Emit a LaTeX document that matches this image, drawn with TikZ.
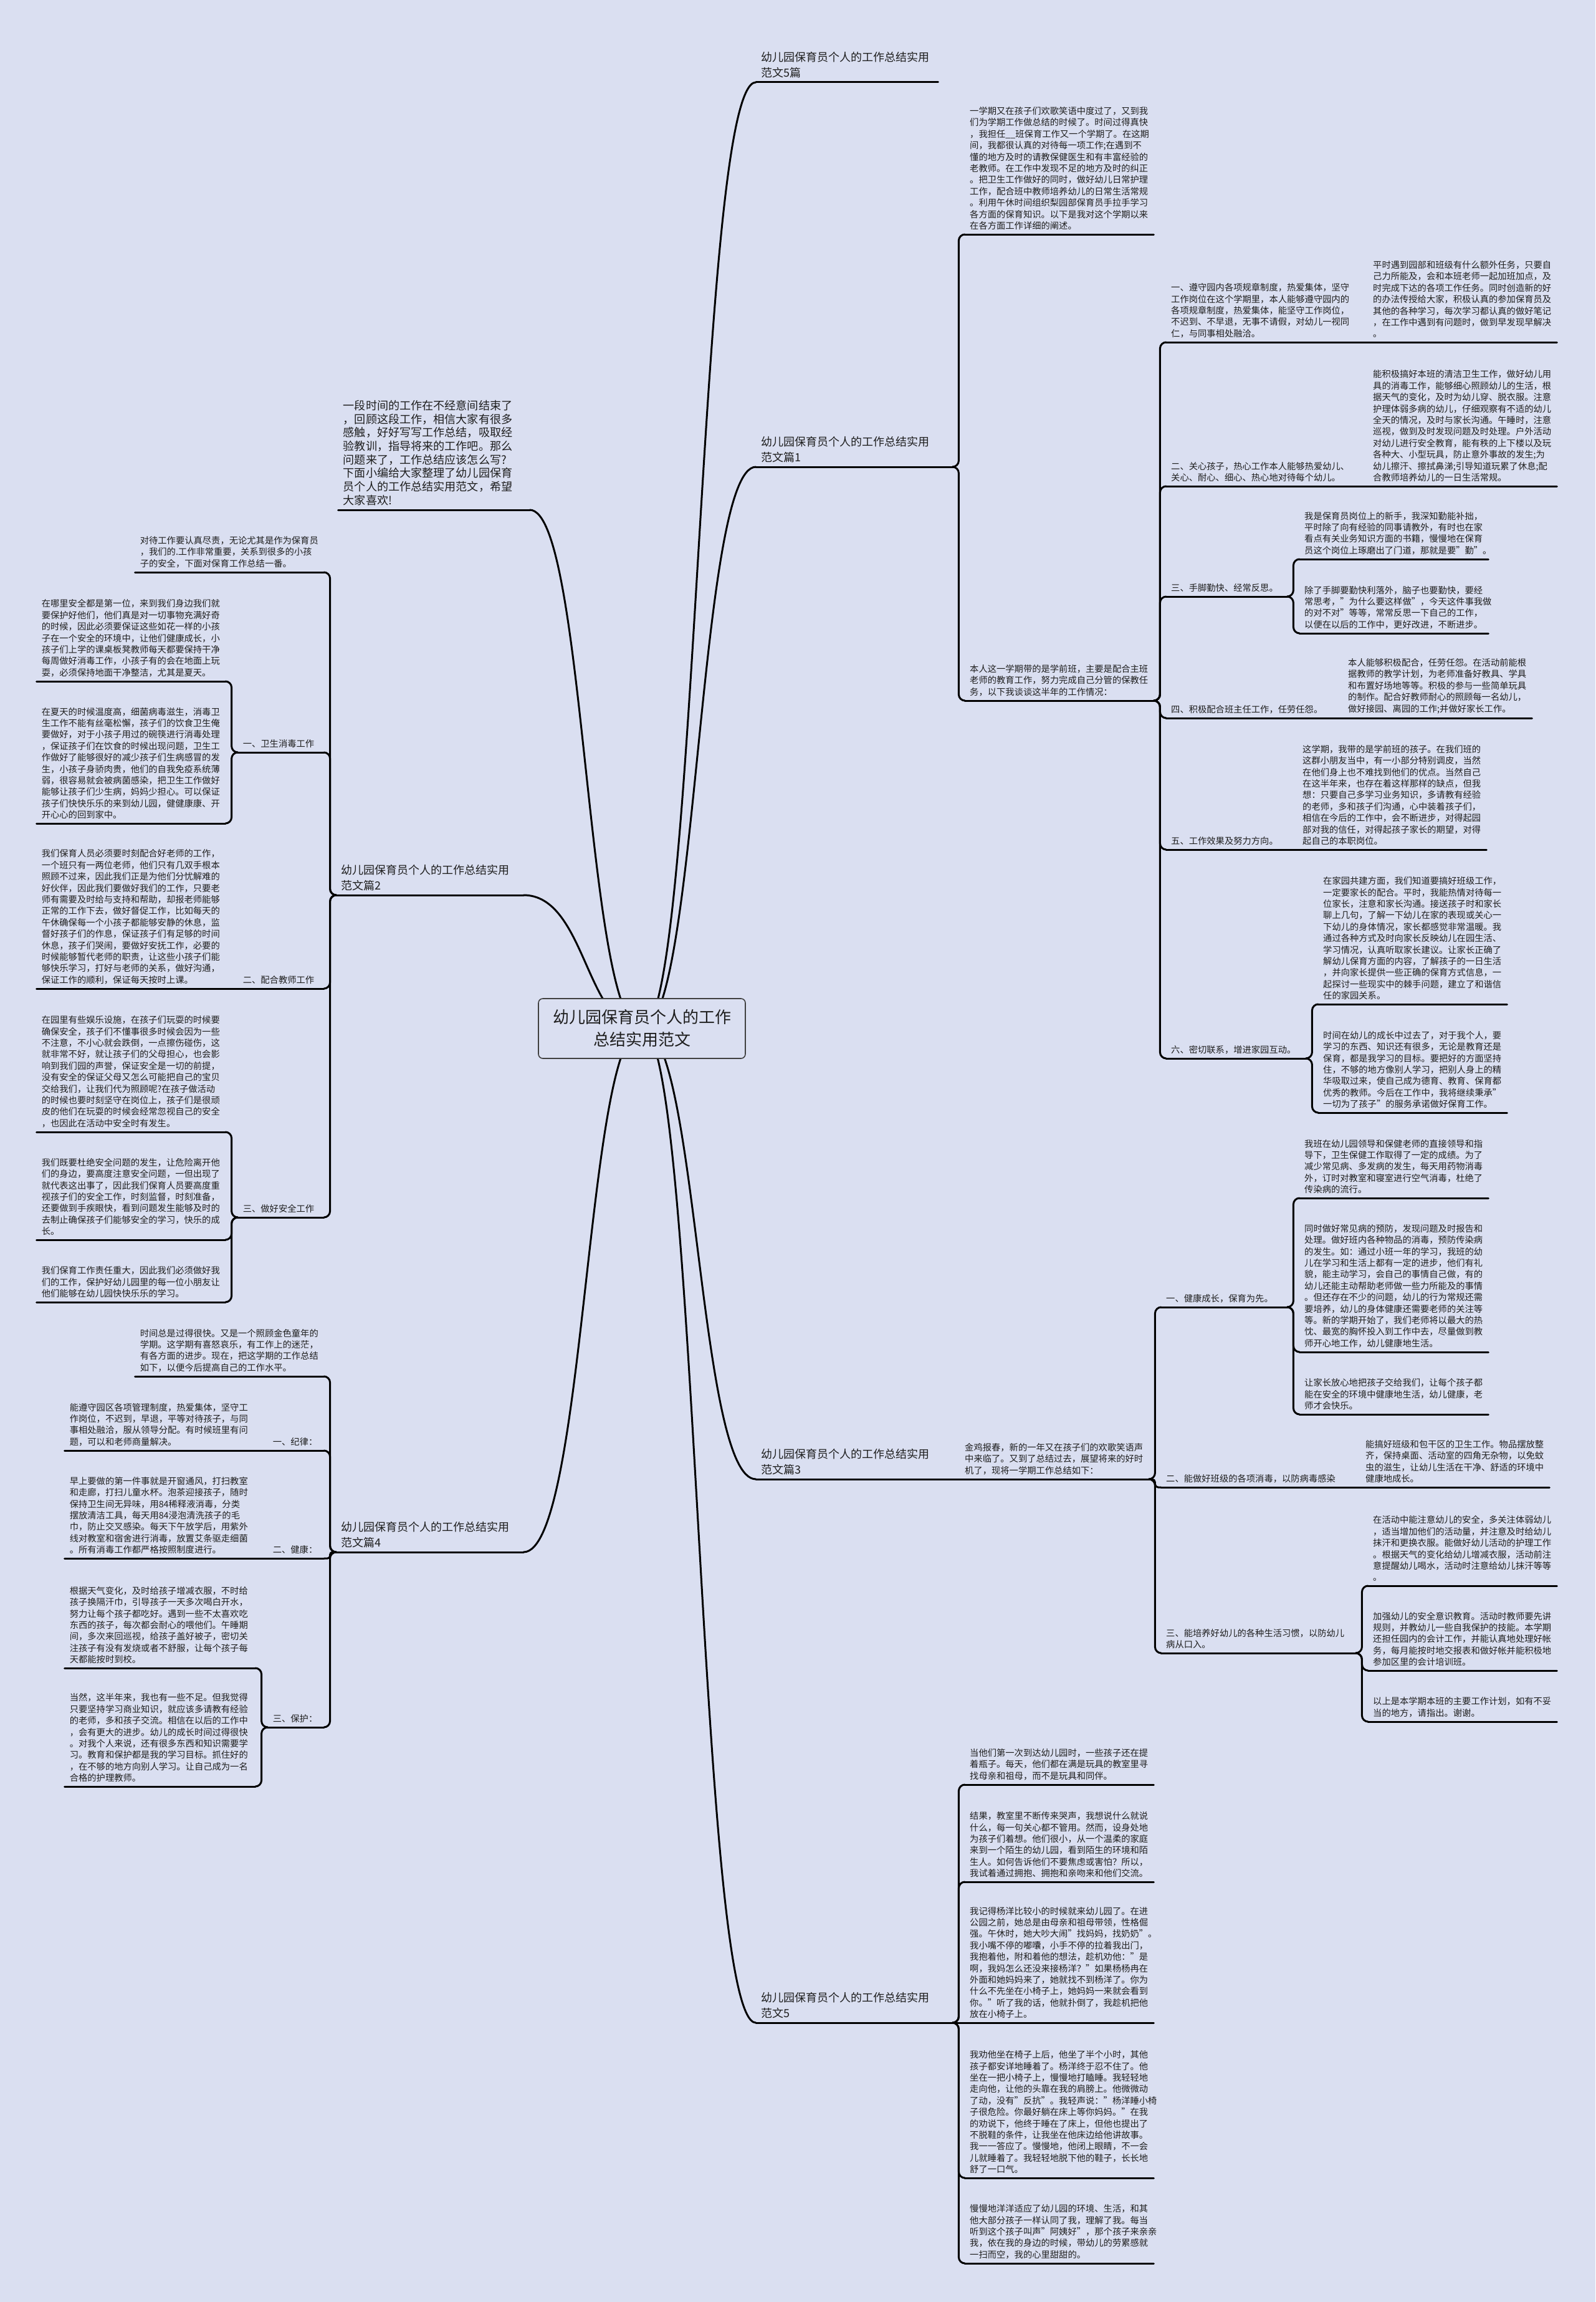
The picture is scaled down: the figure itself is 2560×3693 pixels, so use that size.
\documentclass[tikz,border=0pt]{standalone}
\usepackage{fontspec}
\setmainfont{Noto Sans CJK SC}
\usetikzlibrary{backgrounds}
\definecolor{bgc}{RGB}{218,223,241}
\definecolor{txc}{RGB}{30,30,30}
\tikzset{
  blk/.style={anchor=south west, inner xsep=8pt, inner ysep=7pt, align=left, text=txc, font=\fontsize{14.3}{18.4}\selectfont},
  blkL/.style={blk, anchor=south east},
  lbl/.style={blk, font=\fontsize{18}{25}\selectfont},
  lblL/.style={lbl, anchor=south east},
  intro/.style={blkL, font=\fontsize{18.1}{21.7}\selectfont},
  ln/.style={line width=3pt, line cap=round, black},
  brc/.style={ln, rounded corners=10pt},
  brcs/.style={ln, rounded corners=5pt},
  hub/.style={draw=black!75, line width=1.6pt, fill=bgc, rounded corners=7pt, minimum width=332pt, minimum height=96pt, align=center, text=txc, font=\fontsize{26}{36}\selectfont}
}
\begin{document}
\begin{tikzpicture}[x=1pt, y=-1pt]
\useasboundingbox (0,0) rectangle (2560,3693);

% centre
\node[hub] (c) at (1030,1650) {幼儿园保育员个人的工作\\总结实用范文};

% ---------- right side ----------
\node[lbl, text width=276pt] (s0) at (1213,132) {幼儿园保育员个人的工作总结实用\\范文5篇};
\node[lbl, text width=299pt] (s1) at (1213,749) {幼儿园保育员个人的工作总结实用\\范文篇1};
\node[blk, text width=287pt] (s1a) at (1548,376) {一学期又在孩子们欢歌笑语中度过了，又到我\\们为学期工作做总结的时候了。时间过得真快\\，我担任\_\_班保育工作又一个学期了。在这期\\间，我都很认真的对待每一项工作;在遇到不\\懂的地方及时的请教保健医生和有丰富经验的\\老教师。在工作中发现不足的地方及时的纠正\\。把卫生工作做好的同时，做好幼儿日常护理\\工作，配合班中教师培养幼儿的日常生活常规\\。利用午休时间组织梨园部保育员手拉手学习\\各方面的保育知识。以下是我对这个学期以来\\在各方面工作详细的阐述。};
\node[blk, text width=287pt] (s1b) at (1548,1124) {本人这一学期带的是学前班，主要是配合主班\\老师的教育工作，努力完成自己分管的保教任\\务，以下我谈谈这半年的工作情况：};
\node[blk, text width=308pt] (i1) at (1871,549) {一、遵守园内各项规章制度，热爱集体，坚守\\工作岗位在这个学期里，本人能够遵守园内的\\各项规章制度，热爱集体，能坚守工作岗位，\\不迟到、不早退，无事不请假，对幼儿一视同\\仁，与同事相处融洽。};
\node[blk, text width=287pt] (d1) at (2195,549) {平时遇到园部和班级有什么额外任务，只要自\\己力所能及，会和本班老师一起加班加点，及\\时完成下达的各项工作任务。同时创造新的好\\的办法传授给大家，积极认真的参加保育员及\\其他的各种学习，每次学习都认真的做好笔记\\，在工作中遇到有问题时，做到早发现早解决\\。};
\node[blk, text width=308pt] (i2) at (1871,780) {二、关心孩子，热心工作本人能够热爱幼儿、\\关心、耐心、细心、热心地对待每个幼儿。};
\node[blk, text width=287pt] (d2) at (2195,780) {能积极搞好本班的清洁卫生工作，做好幼儿用\\具的消毒工作，能够细心照顾幼儿的生活，根\\据天气的变化，及时为幼儿穿、脱衣服。注意\\护理体弱多病的幼儿，仔细观察有不适的幼儿\\全天的情况，及时与家长沟通。午睡时，注意\\巡视，做到及时发现问题及时处理。户外活动\\对幼儿进行安全教育，能有秩的上下楼以及玩\\各种大、小型玩具，防止意外事故的发生;为\\幼儿擦汗、擦拭鼻涕;引导知道玩累了休息;配\\合教师培养幼儿的一日生活常规。};
\node[blk, text width=178pt] (i3) at (1871,957) {三、手脚勤快、经常反思。};
\node[blk, text width=287pt] (d3a) at (2085,897) {我是保育员岗位上的新手，我深知勤能补拙，\\平时除了向有经验的同事请教外，有时也在家\\看点有关业务知识方面的书籍，慢慢地在保育\\员这个岗位上琢磨出了门道，那就是要"勤"。};
\node[blk, text width=287pt] (d3b) at (2085,1016) {除了手脚要勤快利落外，脑子也要勤快，要经\\常思考，"为什么要这样做"，今天这件事我做\\的对不对"等等，常常反思一下自己的工作，\\以便在以后的工作中，更好改进，不断进步。};
\node[blk, text width=268pt] (i4) at (1871,1152) {四、积极配合班主任工作，任劳任怨。};
\node[blk, text width=287pt] (d4) at (2155,1152) {本人能够积极配合，任劳任怨。在活动前能根\\据教师的教学计划，为老师准备好教具、学具\\和布置好场地等等。积极的参与一些简单玩具\\的制作。配合好教师耐心的照顾每一名幼儿，\\做好接园、离园的工作;并做好家长工作。};
\node[blk, text width=195pt] (i5) at (1871,1363) {五、工作效果及努力方向。};
\node[blk, text width=287pt] (d5) at (2082,1363) {这学期，我带的是学前班的孩子。在我们班的\\这群小朋友当中，有一小部分特别调皮，当然\\在他们身上也不难找到他们的优点。当然自己\\在这半年来，也存在着这样那样的缺点，但我\\想：只要自己多学习业务知识，多请教有经验\\的老师，多和孩子们沟通，心中装着孩子们，\\相信在今后的工作中，会不断进步，对得起园\\部对我的信任，对得起孩子家长的期望，对得\\起自己的本职岗位。};
\node[blk, text width=208pt] (i6) at (1871,1698) {六、密切联系，增进家园互动。};
\node[blk, text width=287pt] (d6a) at (2115,1611) {在家园共建方面，我们知道要搞好班级工作，\\一定要家长的配合。平时，我能热情对待每一\\位家长，注意和家长沟通。接送孩子时和家长\\聊上几句，了解一下幼儿在家的表现或关心一\\下幼儿的身体情况，家长都感觉非常温暖。我\\通过各种方式及时向家长反映幼儿在园生活、\\学习情况，认真听取家长建议。让家长正确了\\解幼儿保育方面的内容，了解孩子的一日生活\\，并向家长提供一些正确的保育方式信息，一\\起探讨一些现实中的棘手问题，建立了和谐信\\任的家园关系。};
\node[blk, text width=287pt] (d6b) at (2115,1785) {时间在幼儿的成长中过去了，对于我个人，要\\学习的东西、知识还有很多，无论是教育还是\\保育，都是我学习的目标。要把好的方面坚持\\住，不够的地方像别人学习，把别人身上的精\\华吸取过来，使自己成为德育、教育、保育都\\优秀的教师。今后在工作中，我将继续秉承"\\一切为了孩子"的服务承诺做好保育工作。};

\node[lbl, text width=311pt] (s3) at (1213,2373) {幼儿园保育员个人的工作总结实用\\范文篇3};
\node[blk, text width=287pt] (s3a) at (1540,2373) {金鸡报春，新的一年又在孩子们的欢歌笑语声\\中来临了。又到了总结过去，展望将来的好时\\机了，现将一学期工作总结如下：};
\node[blk, text width=186pt] (j1) at (1863,2097) {一、健康成长，保育为先。};
\node[blk, text width=287pt] (j1a) at (2085,1922) {我班在幼儿园领导和保健老师的直接领导和指\\导下，卫生保健工作取得了一定的成绩。为了\\减少常见病、多发病的发生，每天用药物消毒\\外，订时对教室和寝室进行空气消毒，杜绝了\\传染病的流行。};
\node[blk, text width=287pt] (j1b) at (2085,2169) {同时做好常见病的预防，发现问题及时报告和\\处理。做好班内各种物品的消毒，预防传染病\\的发生。如：通过小班一年的学习，我班的幼\\儿在学习和生活上都有一定的进步，他们有礼\\貌，能主动学习，会自己的事情自己做，有的\\幼儿还能主动帮助老师做一些力所能及的事情\\。但还存在不少的问题，幼儿的行为常规还需\\要培养，幼儿的身体健康还需要老师的关注等\\等。新的学期开始了，我们老师将以最大的热\\忱、最宽的胸怀投入到工作中去，尽量做到教\\师开心地工作，幼儿健康地生活。};
\node[blk, text width=287pt] (j1c) at (2085,2269) {让家长放心地把孩子交给我们，让每个孩子都\\能在安全的环境中健康地生活，幼儿健康，老\\师才会快乐。};
\node[blk, text width=304pt] (j2) at (1863,2386) {二、能做好班级的各项消毒，以防病毒感染};
\node[blk, text width=287pt] (j2d) at (2183,2386) {能搞好班级和包干区的卫生工作。物品摆放整\\齐，保持桌面、活动室的四角无杂物，以免蚊\\虫的滋生，让幼儿生活在干净、舒适的环境中\\健康地成长。};
\node[blk, text width=296pt] (j3) at (1863,2652) {三、能培养好幼儿的各种生活习惯，以防幼儿\\病从口入。};
\node[blk, text width=287pt] (j3a) at (2195,2544) {在活动中能注意幼儿的安全，多关注体弱幼儿\\，适当增加他们的活动量，并注意及时给幼儿\\抹汗和更换衣服。能做好幼儿活动的护理工作\\。根据天气的变化给幼儿增减衣服，活动前注\\意提醒幼儿喝水，活动时注意给幼儿抹汗等等\\。};
\node[blk, text width=287pt] (j3b) at (2195,2680) {加强幼儿的安全意识教育。活动时教师要先讲\\规则，并教幼儿一些自我保护的技能。本学期\\还担任园内的会计工作，并能认真地处理好帐\\务，每月能按时地交报表和做好帐并能积极地\\参加区里的会计培训班。};
\node[blk, text width=287pt] (j3c) at (2195,2762) {以上是本学期本班的主要工作计划，如有不妥\\当的地方，请指出。谢谢。};

\node[lbl, text width=299pt] (s5) at (1213,3245) {幼儿园保育员个人的工作总结实用\\范文5};
\node[blk, text width=287pt] (m1) at (1548,2863) {当他们第一次到达幼儿园时，一些孩子还在提\\着瓶子。每天，他们都在满是玩具的教室里寻\\找母亲和祖母，而不是玩具和同伴。};
\node[blk, text width=287pt] (m2) at (1548,3019) {结果，教室里不断传来哭声，我想说什么就说\\什么，每一句关心都不管用。然而，设身处地\\为孩子们着想。他们很小，从一个温柔的家庭\\来到一个陌生的幼儿园，看到陌生的环境和陌\\生人。如何告诉他们不要焦虑或害怕？所以，\\我试着通过拥抱、拥抱和亲吻来和他们交流。};
\node[blk, text width=287pt] (m3) at (1548,3245) {我记得杨洋比较小的时候就来幼儿园了。在进\\公园之前，她总是由母亲和祖母带领，性格倔\\强。午休时，她大吵大闹"找妈妈，找奶奶"。\\我小嘴不停的嘟囔，小手不停的拉着我出门，\\我抱着他，附和着他的想法，趁机劝他："是\\啊，我妈怎么还没来接杨洋？"如果杨杨冉在\\外面和她妈妈来了，她就找不到杨洋了。你为\\什么不先坐在小椅子上，她妈妈一来就会看到\\你。"听了我的话，他就扑倒了，我趁机把他\\放在小椅子上。};
\node[blk, text width=287pt] (m4) at (1548,3494) {我劝他坐在椅子上后，他坐了半个小时，其他\\孩子都安详地睡着了。杨洋终于忍不住了。他\\坐在一把小椅子上，慢慢地打瞌睡。我轻轻地\\走向他，让他的头靠在我的肩膀上。他微微动\\了动，没有"反抗"。我轻声说："杨洋睡小椅\\子很危险。你最好躺在床上等你妈妈。"在我\\的劝说下，他终于睡在了床上，但他也提出了\\不脱鞋的条件，让我坐在他床边给他讲故事。\\我一一答应了。慢慢地，他闭上眼睛，不一会\\儿就睡着了。我轻轻地脱下他的鞋子，长长地\\舒了一口气。};
\node[blk, text width=287pt] (m5) at (1548,3631) {慢慢地洋洋适应了幼儿园的环境、生活，和其\\他大部分孩子一样认同了我，理解了我。每当\\听到这个孩子叫声"阿姨好"，那个孩子来亲亲\\我，依在我的身边的时候，带幼儿的劳累感就\\一扫而空，我的心里甜甜的。};

% ---------- left side ----------
\node[intro, text width=291pt] (li) at (850,818) {一段时间的工作在不经意间结束了\\，回顾这段工作，相信大家有很多\\感触，好好写写工作总结，吸取经\\验教训，指导将来的工作吧。那么\\问题来了，工作总结应该怎么写?\\下面小编给大家整理了幼儿园保育\\员个人的工作总结实用范文，希望\\大家喜欢!};

\node[lblL, text width=284pt] (s2) at (840,1436) {幼儿园保育员个人的工作总结实用\\范文篇2};
\node[blkL, text width=287pt] (s2a) at (520,918) {对待工作要认真尽责，无论尤其是作为保育员\\，我们的.工作非常重要，关系到很多的小孩\\子的安全，下面对保育工作总结一番。};
\node[blkL, text width=122pt] (s2b) at (520,1207) {一、卫生消毒工作};
\node[blkL, text width=287pt] (s2b1) at (362,1093) {在哪里安全都是第一位，来到我们身边我们就\\要保护好他们，他们真是对一切事物充满好奇\\的时候，因此必须要保证这些如花一样的小孩\\子在一个安全的环境中，让他们健康成长，小\\孩子们上学的课桌板凳教师每天都要保持干净\\每周做好消毒工作，小孩子有的会在地面上玩\\耍，必须保持地面干净整洁，尤其是夏天。};
\node[blkL, text width=287pt] (s2b2) at (362,1321) {在夏天的时候温度高，细菌病毒滋生，消毒卫\\生工作不能有丝毫松懈，孩子们的饮食卫生俺\\要做好，对于小孩子用过的碗筷进行消毒处理\\，保证孩子们在饮食的时候出现问题，卫生工\\作做好了能够很好的减少孩子们生病感冒的发\\生，小孩子身骄肉贵，他们的自我免疫系统薄\\弱，很容易就会被病菌感染，把卫生工作做好\\能够让孩子们少生病，妈妈少担心。可以保证\\孩子们快快乐乐的来到幼儿园，健健康康、开\\开心心的回到家中。};
\node[blkL, text width=122pt] (s2c) at (520,1586) {二、配合教师工作};
\node[blkL, text width=307pt] (s2cd) at (382,1586) {我们保育人员必须要时刻配合好老师的工作，\\一个班只有一两位老师，他们只有几双手根本\\照顾不过来，因此我们正是为他们分忧解难的\\好伙伴，因此我们要做好我们的工作，只要老\\师有需要及时给与支持和帮助，却报老师能够\\正常的工作下去，做好督促工作，比如每天的\\午休确保每一个小孩子都能够安静的休息，监\\督好孩子们的作息，保证孩子们有足够的时间\\休息，孩子们哭闹，要做好安抚工作，必要的\\时候能够暂代老师的职责，让这些小孩子们能\\够快乐学习，打好与老师的关系，做好沟通，\\保证工作的顺利，保证每天按时上课。};
\node[blkL, text width=122pt] (s2d) at (520,1953) {三、做好安全工作};
\node[blkL, text width=287pt] (s2d1) at (362,1816) {在园里有些娱乐设施，在孩子们玩耍的时候要\\确保安全，孩子们不懂事很多时候会因为一些\\不注意，不小心就会跌倒，一点擦伤碰伤，这\\就非常不好，就让孩子们的父母担心，也会影\\响到我们园的声誉，保证安全是一切的前提，\\没有安全的保证父母又怎么可能把自己的宝贝\\交给我们，让我们代为照顾呢?在孩子做活动\\的时候也要时刻坚守在岗位上，孩子们是很顽\\皮的他们在玩耍的时候会经常忽视自己的安全\\，也因此在活动中安全时有发生。};
\node[blkL, text width=287pt] (s2d2) at (362,1989) {我们既要杜绝安全问题的发生，让危险离开他\\们的身边，要高度注意安全问题，一但出现了\\就代表这出事了，因此我们保育人员要高度重\\视孩子们的安全工作，时刻监督，时刻准备，\\还要做到手疾眼快，看到问题发生能够及时的\\去制止确保孩子们能够安全的学习，快乐的成\\长。};
\node[blkL, text width=287pt] (s2d3) at (362,2089) {我们保育工作责任重大，因此我们必须做好我\\们的工作，保护好幼儿园里的每一位小朋友让\\他们能够在幼儿园快快乐乐的学习。};

\node[lblL, text width=284pt] (s4) at (840,2490) {幼儿园保育员个人的工作总结实用\\范文篇4};
\node[blkL, text width=287pt] (s4a) at (520,2208) {时间总是过得很快。又是一个照顾金色童年的\\学期。这学期有喜怒哀乐，有工作上的迷茫，\\有各方面的进步。现在，把这学期的工作总结\\如下，以便今后提高自己的工作水平。};
\node[blkL, text width=74pt] (k1) at (520,2327) {一、纪律：};
\node[blkL, text width=310pt] (k1d) at (430,2327) {能遵守园区各项管理制度，热爱集体，坚守工\\作岗位，不迟到，早退，平等对待孩子，与同\\事相处融洽，服从领导分配。有时候班里有问\\题，可以和老师商量解决。};
\node[blkL, text width=74pt] (k2) at (520,2500) {二、健康：};
\node[blkL, text width=310pt] (k2d) at (430,2500) {早上要做的第一件事就是开窗通风，打扫教室\\和走廊，打扫儿童水杯。泡茶迎接孩子，随时\\保持卫生间无异味，用84稀释液消毒，分类\\摆放清洁工具，每天用84浸泡清洗孩子的毛\\巾，防止交叉感染。每天下午放学后，用紫外\\线对教室和宿舍进行消毒，放置艾条驱走细菌\\。所有消毒工作都严格按照制度进行。};
\node[blkL, text width=74pt] (k3) at (520,2771) {三、保护：};
\node[blkL, text width=290pt] (k3a) at (410,2676) {根据天气变化，及时给孩子增减衣服，不时给\\孩子换隔汗巾，引导孩子一天多次喝白开水，\\努力让每个孩子都吃好。遇到一些不太喜欢吃\\东西的孩子，每次都会耐心的喂他们。午睡期\\间，多次来回巡视，给孩子盖好被子，密切关\\注孩子有没有发烧或者不舒服，让每个孩子每\\天都能按时到校。};
\node[blkL, text width=290pt] (k3b) at (410,2866) {当然，这半年来，我也有一些不足。但我觉得\\只要坚持学习商业知识，就应该多请教有经验\\的老师，多和孩子交流。相信在以后的工作中\\，会有更大的进步。幼儿的成长时间过得很快\\。对我个人来说，还有很多东西和知识需要学\\习。教育和保护都是我的学习目标。抓住好的\\，在不够的地方向别人学习。让自己成为一名\\合格的护理教师。};

% underlines
\foreach \n in {s0,s1,s1a,s1b,i1,d1,i2,d2,i3,d3a,d3b,i4,d4,i5,d5,i6,d6a,d6b,s3,s3a,j1,j1a,j1b,j1c,j2,j2d,j3,j3a,j3b,j3c,s5,m1,m2,m3,m4,m5,li,s2,s2a,s2b,s2b1,s2b2,s2c,s2cd,s2d,s2d1,s2d2,s2d3,s4,s4a,k1,k1d,k2,k2d,k3,k3a,k3b}
  \draw[ln] (\n.south west) -- (\n.south east);

\begin{scope}[on background layer]
\fill[bgc] (0,0) rectangle (2560,3693);
% main branches
\draw[ln] (c.center) .. controls (1120,1650) and (1120,132) .. (s0.south west);
\draw[ln] (c.center) .. controls (1120,1650) and (1120,749) .. (s1.south west);
\draw[ln] (c.center) .. controls (1120,1650) and (1120,2373) .. (s3.south west);
\draw[ln] (c.center) .. controls (1120,1650) and (1120,3245) .. (s5.south west);
\draw[ln] (c.center) .. controls (940,1650) and (940,818) .. (li.south east);
\draw[ln] (c.center) .. controls (940,1650) and (940,1436) .. (s2.south east);
\draw[ln] (c.center) .. controls (940,1650) and (940,2490) .. (s4.south east);
% section 1
\foreach \ch in {s1a,s1b} \draw[brc] (s1.south east) -- ++(10,0) |- (\ch.south west);
\foreach \ch in {i1,i2,i3,i4,i5,i6} \draw[brc] (s1b.south east) -- ++(10,0) |- (\ch.south west);
\draw[ln] (i1.south east) -- (d1.south west);
\draw[ln] (i2.south east) -- (d2.south west);
\foreach \ch in {d3a,d3b} \draw[brc] (i3.south east) -- ++(10,0) |- (\ch.south west);
\draw[ln] (i4.south east) -- (d4.south west);
\draw[ln] (i5.south east) -- (d5.south west);
\foreach \ch in {d6a,d6b} \draw[brc] (i6.south east) -- ++(10,0) |- (\ch.south west);
% section 3
\draw[ln] (s3.south east) -- (s3a.south west);
\foreach \ch in {j1,j3} \draw[brc] (s3a.south east) -- ++(10,0) |- (\ch.south west);
\draw[brcs] (s3a.south east) -- ++(10,0) |- (j2.south west);
\foreach \ch in {j1a,j1b,j1c} \draw[brc] (j1.south east) -- ++(10,0) |- (\ch.south west);
\draw[ln] (j2.south east) -- (j2d.south west);
\foreach \ch in {j3a,j3b,j3c} \draw[brc] (j3.south east) -- ++(10,0) |- (\ch.south west);
% section 5
\foreach \ch in {m1,m2,m4,m5} \draw[brc] (s5.south east) -- ++(10,0) |- (\ch.south west);
\draw[ln] (s5.south east) -- (m3.south west);
% section 2
\foreach \ch in {s2a,s2b,s2c,s2d} \draw[brc] (s2.south west) -- ++(-10,0) |- (\ch.south east);
\foreach \ch in {s2b1,s2b2} \draw[brc] (s2b.south west) -- ++(-10,0) |- (\ch.south east);
\draw[ln] (s2c.south west) -- (s2cd.south east);
\foreach \ch in {s2d1,s2d2,s2d3} \draw[brc] (s2d.south west) -- ++(-10,0) |- (\ch.south east);
% section 4
\foreach \ch in {s4a,k1,k3} \draw[brc] (s4.south west) -- ++(-10,0) |- (\ch.south east);
\draw[ln, rounded corners=4pt] (s4.south west) -- ++(-10,0) |- (k2.south east);
\draw[ln] (k1.south west) -- (k1d.south east);
\draw[ln] (k2.south west) -- (k2d.south east);
\foreach \ch in {k3a,k3b} \draw[brc] (k3.south west) -- ++(-10,0) |- (\ch.south east);
\end{scope}
\end{tikzpicture}
\end{document}
